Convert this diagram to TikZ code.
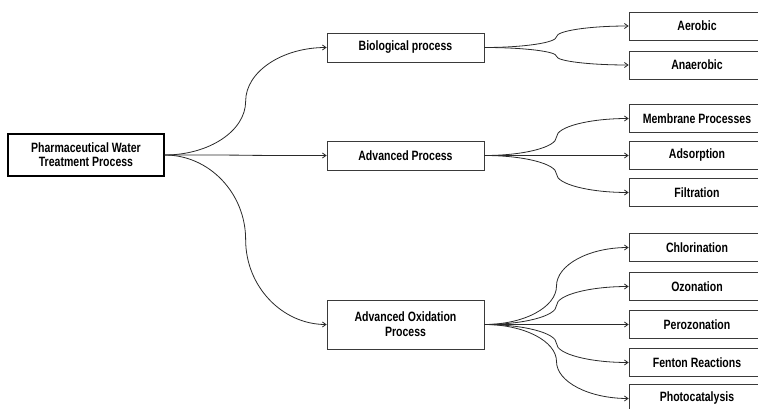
\documentclass[tikz,border=0pt]{standalone}
\usepackage{fontspec}
\setmainfont{Liberation Sans}[FakeStretch=0.78]
\usetikzlibrary{arrows.meta, calc}
\definecolor{boxLine}{HTML}{3A3A3A}
\definecolor{linkLine}{HTML}{2A2A2A}
\tikzset{
  rootbox/.style={draw=black, line width=1.4pt, minimum width=156pt, minimum height=42pt,
                  align=center, inner sep=1pt, font=\bfseries\fontsize{13.5}{14}\selectfont},
  midbox/.style={draw=boxLine, line width=0.8pt, minimum width=157pt, minimum height=29pt,
                 align=center, inner sep=1pt, font=\bfseries\fontsize{13.5}{15}\selectfont},
  leafbox/.style={draw=boxLine, line width=0.8pt, minimum width=136pt, minimum height=28pt,
                  inner sep=1pt, font=\bfseries\fontsize{13.5}{14}\selectfont},
  link/.style={draw=linkLine, line width=0.8pt, -{Straight Barb[length=3.5pt, width=5pt]}},
}

\begin{document}
\begin{tikzpicture}[x=1pt, y=-1pt]
\path[use as bounding box, clip] (0,0) rectangle (758,409);
% root and second level
\node[rootbox] (pwt) at (86,155) {Pharmaceutical Water\\Treatment Process};
\node[midbox] (bio) at (405.5,47.5) {Biological process};
\node[midbox] (adv) at (405.5,155.5) {Advanced Process};
\node[midbox, minimum height=49pt] (aop) at (405.5,324.5) {Advanced Oxidation\\Process};
% leaves
\foreach \nm/\yy/\txt in {aer/26/Aerobic, ana/65/Anaerobic, mem/118.5/Membrane Processes,
    ads/155.5/Adsorption, fil/192.5/Filtration, chl/247.5/Chlorination, ozo/286.5/Ozonation,
    per/324.5/Perozonation, fen/362.5/Fenton Reactions, pho/398.5/Photocatalysis} {
  \node[leafbox] (\nm) at (697,\yy) {\txt};
}
% connectors: horizontal out, vertical at the middle, horizontal in
\foreach \a/\b in {pwt/bio, pwt/adv, pwt/aop, bio/aer, bio/ana, adv/mem, adv/ads, adv/fil,
    aop/chl, aop/ozo, aop/per, aop/fen, aop/pho} {
  \coordinate (m) at ($(\a.east)!0.5!(\b.west)$);
  \draw[link] (\a.east) .. controls ($(\a.east)!0.55!(m|-\a.east)$) and ($(m)!0.55!(m|-\a.east)$) .. (m)
    .. controls ($(m)!0.55!(m|-\b.west)$) and ($(\b.west)!0.55!(m|-\b.west)$) .. (\b.west);
}
\end{tikzpicture}
\end{document}
